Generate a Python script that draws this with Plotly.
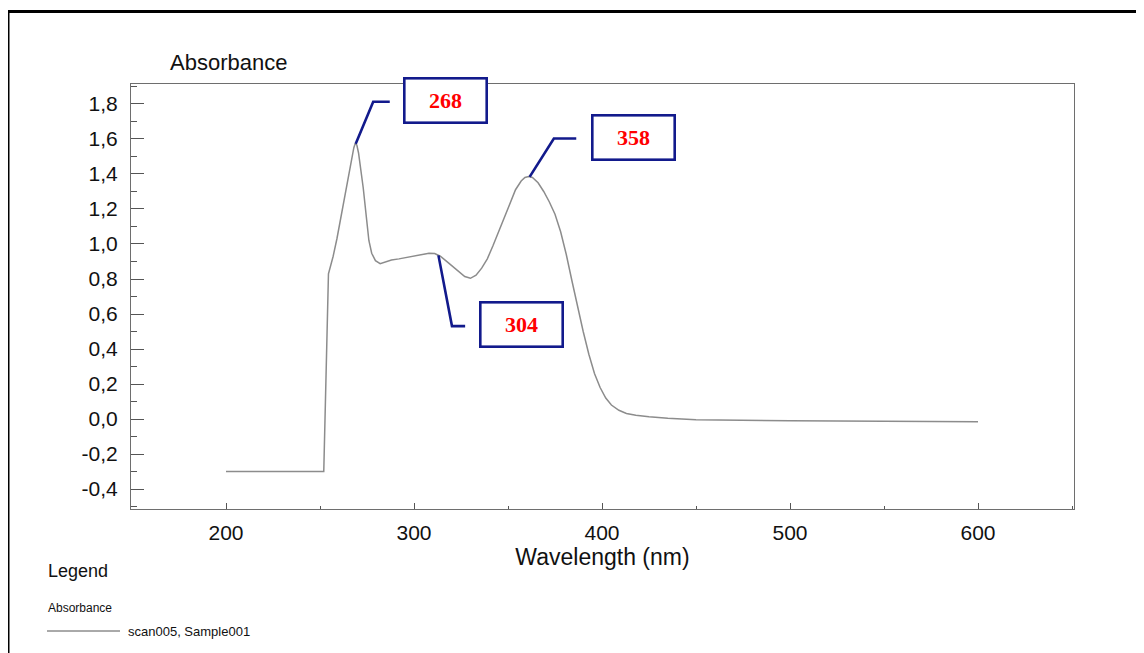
import numpy as np
import plotly.graph_objects as go

# ---------------- data ----------------
wavelength = [200, 252, 254.5, 257, 259, 262, 265, 267, 268, 268.8, 269.6, 270.5, 271.5, 273, 274.8, 276,
              277.5, 279.5, 282, 285, 288, 292, 296, 300, 304, 308, 311, 314, 318, 321, 324,
              327, 330, 333, 336, 339, 342, 345, 348, 351, 354, 357, 359, 361, 363, 366, 369,
              372, 375, 378, 381, 384, 387, 390, 393, 396, 399, 402, 405, 409, 413, 418, 425,
              435, 450, 475, 500, 550, 580, 600]
absorbance = [-0.30, -0.30, 0.83, 0.93, 1.03, 1.20, 1.38, 1.50, 1.55, 1.575, 1.565, 1.52, 1.44, 1.32, 1.14, 1.02,
              0.947, 0.905, 0.888, 0.897, 0.909, 0.915, 0.924, 0.932, 0.940, 0.947, 0.945, 0.930,
              0.895, 0.868, 0.838, 0.814, 0.804, 0.822, 0.862, 0.915, 0.99, 1.07, 1.15, 1.23, 1.31,
              1.36, 1.38, 1.385, 1.38, 1.35, 1.30, 1.24, 1.17, 1.07, 0.94, 0.79, 0.64, 0.50, 0.37,
              0.26, 0.18, 0.12, 0.08, 0.05, 0.032, 0.022, 0.013, 0.004, -0.004, -0.008, -0.010,
              -0.012, -0.013, -0.015]

x_tickvals = [200, 300, 400, 500, 600]
x_ticktext = ["200", "300", "400", "500", "600"]
y_tickvals = [-0.4, -0.2, 0.0, 0.2, 0.4, 0.6, 0.8, 1.0, 1.2, 1.4, 1.6, 1.8]
y_ticktext = ["-0,4", "-0,2", "0,0", "0,2", "0,4", "0,6", "0,8", "1,0", "1,2", "1,4", "1,6", "1,8"]

peak_labels = ["268", "358", "304"]
peak_anchor_wl = [269, 361.5, 313]          # where the leader lines touch the curve

series_name = "scan005, Sample001"

# ---------------- styling ----------------
FONT = "Arial, 'Liberation Sans', sans-serif"
TXT = "#111111"
NAVY = "#121a8c"
# leader geometry per label: (elbow dx, elbow dy, end dx, box dx, box dy) in data units
leader_style = {
    "268": (9.3, 0.24, 18.1, 48.0, 0.246),
    "358": (12.9, 0.219, 24.8, 55.0, 0.226),
    "304": (7.2, -0.404, 14.2, 44.0, -0.394),
}

fig = go.Figure()
fig.add_trace(go.Scatter(x=wavelength, y=absorbance, mode="lines", name=series_name,
                         line=dict(color="#8c8c8c", width=1.5), showlegend=False))

shapes = []
annotations = []
for lab, wl0 in zip(peak_labels, peak_anchor_wl):
    a0 = float(np.interp(wl0, wavelength, absorbance))
    ex, ey, endx, bx, by = leader_style[lab]
    shapes.append(dict(type="path", xref="x", yref="y",
                       path=f"M {wl0},{a0} L {wl0+ex},{a0+ey} L {wl0+endx},{a0+ey}",
                       line=dict(color=NAVY, width=2.6)))
    annotations.append(dict(x=wl0 + bx, y=a0 + by, xref="x", yref="y", text=f"<b>{lab}</b>",
                            showarrow=False, width=78, height=40, borderpad=1,
                            bordercolor=NAVY, borderwidth=2.6, bgcolor="white",
                            font=dict(family="'Times New Roman', 'Liberation Serif', serif",
                                      size=22, color="#ff0000"),
                            xanchor="center", yanchor="middle"))

# page has an 8px body margin: work in window pixels, then shift
OFF = 8
W, H = 1144 - OFF, 653 - OFF
L, R, T, B = 131 - OFF, 1074 - OFF, 84 - OFF, 509 - OFF
def px(xp):
    return (xp - OFF - L) / (R - L)
def py(yp):
    return (B - (yp - OFF)) / (B - T)

# outer black frame (only left/top visible)
shapes.append(dict(type="rect", xref="paper", yref="paper",
                   x0=px(8), x1=px(1170), y0=py(690), y1=py(11.5),
                   line=dict(color="black", width=3), fillcolor="rgba(0,0,0,0)", layer="above"))
# legend sample line
shapes.append(dict(type="line", xref="paper", yref="paper",
                   x0=px(47), x1=px(120), y0=py(631), y1=py(631),
                   line=dict(color="#555", width=1)))

annotations += [
    dict(text="Absorbance", xref="paper", yref="paper", x=px(168), y=py(62),
         xanchor="left", yanchor="middle", showarrow=False,
         font=dict(family=FONT, size=22, color=TXT)),
    dict(text="Legend", xref="paper", yref="paper", x=px(46), y=py(571),
         xanchor="left", yanchor="middle", showarrow=False,
         font=dict(family=FONT, size=18, color=TXT)),
    dict(text="Absorbance", xref="paper", yref="paper", x=px(46), y=py(608),
         xanchor="left", yanchor="middle", showarrow=False,
         font=dict(family=FONT, size=12, color=TXT)),
    dict(text=series_name, xref="paper", yref="paper", x=px(126), y=py(631),
         xanchor="left", yanchor="middle", showarrow=False,
         font=dict(family=FONT, size=13, color=TXT)),
]

fig.update_layout(
    width=W, height=H,
    margin=dict(l=L, r=W - R, t=T, b=H - B, autoexpand=False),
    paper_bgcolor="white", plot_bgcolor="white",
    font=dict(family=FONT, color=TXT),
    shapes=shapes, annotations=annotations, showlegend=False,
)
fig.update_xaxes(range=[149.47, 651.06], tickvals=x_tickvals, ticktext=x_ticktext,
                 ticks="inside", ticklen=6, tickwidth=1, tickcolor="#555",
                 minor=dict(dtick=50, tick0=0, ticks="inside", ticklen=3, tickcolor="#555"),
                 showline=True, mirror=True, linecolor="#6e6e6e", linewidth=1,
                 showgrid=False, zeroline=False,
                 tickfont=dict(family=FONT, size=21, color=TXT), ticklabelstandoff=5,
                 title=dict(text="Wavelength (nm)", font=dict(family=FONT, size=23, color=TXT),
                            standoff=0),
                 automargin=False)
fig.update_yaxes(range=[-0.514, 1.914], tickvals=y_tickvals, ticktext=y_ticktext,
                 ticks="inside", ticklen=13, tickwidth=1, tickcolor="#555",
                 minor=dict(dtick=0.1, tick0=0, ticks="inside", ticklen=6, tickcolor="#555"),
                 showline=True, mirror=True, linecolor="#6e6e6e", linewidth=1,
                 showgrid=False, zeroline=False,
                 tickfont=dict(family=FONT, size=21, color=TXT), ticklabelstandoff=8,
                 automargin=False)

fig.write_html("out.html")
